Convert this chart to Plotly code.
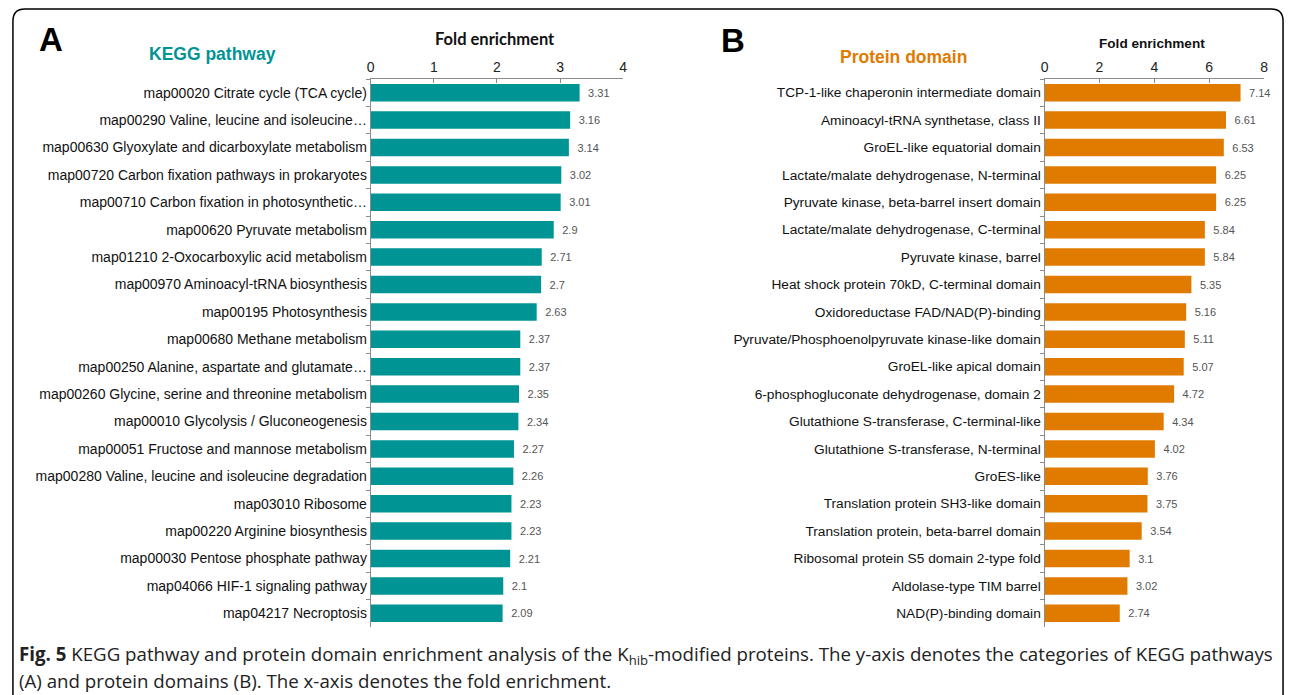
import plotly.graph_objects as go

W, H = 1295, 695

kegg_terms = [
    "map00020 Citrate cycle (TCA cycle)",
    "map00290 Valine, leucine and isoleucine…",
    "map00630 Glyoxylate and dicarboxylate metabolism",
    "map00720 Carbon fixation pathways in prokaryotes",
    "map00710 Carbon fixation in photosynthetic…",
    "map00620 Pyruvate metabolism",
    "map01210 2-Oxocarboxylic acid metabolism",
    "map00970 Aminoacyl-tRNA biosynthesis",
    "map00195 Photosynthesis",
    "map00680 Methane metabolism",
    "map00250 Alanine, aspartate and glutamate…",
    "map00260 Glycine, serine and threonine metabolism",
    "map00010 Glycolysis / Gluconeogenesis",
    "map00051 Fructose and mannose metabolism",
    "map00280 Valine, leucine and isoleucine degradation",
    "map03010 Ribosome",
    "map00220 Arginine biosynthesis",
    "map00030 Pentose phosphate pathway",
    "map04066 HIF-1 signaling pathway",
    "map04217 Necroptosis",
]
kegg_fold = [3.31, 3.16, 3.14, 3.02, 3.01, 2.9, 2.71, 2.7, 2.63, 2.37,
             2.37, 2.35, 2.34, 2.27, 2.26, 2.23, 2.23, 2.21, 2.1, 2.09]

domain_terms = [
    "TCP-1-like chaperonin intermediate domain",
    "Aminoacyl-tRNA synthetase, class II",
    "GroEL-like equatorial domain",
    "Lactate/malate dehydrogenase, N-terminal",
    "Pyruvate kinase, beta-barrel insert domain",
    "Lactate/malate dehydrogenase, C-terminal",
    "Pyruvate kinase, barrel",
    "Heat shock protein 70kD, C-terminal domain",
    "Oxidoreductase FAD/NAD(P)-binding",
    "Pyruvate/Phosphoenolpyruvate kinase-like domain",
    "GroEL-like apical domain",
    "6-phosphogluconate dehydrogenase, domain 2",
    "Glutathione S-transferase, C-terminal-like",
    "Glutathione S-transferase, N-terminal",
    "GroES-like",
    "Translation protein SH3-like domain",
    "Translation protein, beta-barrel domain",
    "Ribosomal protein S5 domain 2-type fold",
    "Aldolase-type TIM barrel",
    "NAD(P)-binding domain",
]
domain_fold = [7.14, 6.61, 6.53, 6.25, 6.25, 5.84, 5.84, 5.35, 5.16, 5.11,
               5.07, 4.72, 4.34, 4.02, 3.76, 3.75, 3.54, 3.1, 3.02, 2.74]

kegg_ticks = [0, 1, 2, 3, 4]
domain_ticks = [0, 2, 4, 6, 8]

TEAL = "#009495"
ORANGE = "#E07B00"
AXIS_C = "#8c8c8c"
ARIAL = "Liberation Sans, Arial, sans-serif"


def px(x):
    return x / W


def py(y):
    return 1 - y / H


fig = go.Figure()
fig.add_trace(go.Bar(
    x=kegg_fold, y=kegg_terms, orientation="h", marker_color=TEAL,
    marker_line_width=0, text=["\u2002" + str(v) for v in kegg_fold],
    textposition="outside", textfont=dict(family=ARIAL, size=11, color="#555"),
    cliponaxis=False, xaxis="x", yaxis="y", showlegend=False))
fig.add_trace(go.Bar(
    x=domain_fold, y=domain_terms, orientation="h", marker_color=ORANGE,
    marker_line_width=0, text=["\u2002" + str(v) for v in domain_fold],
    textposition="outside", textfont=dict(family=ARIAL, size=11, color="#555"),
    cliponaxis=False, xaxis="x2", yaxis="y2", showlegend=False))

ydom = [py(627), py(79)]
common_x = dict(side="top", showline=True, linecolor=AXIS_C, linewidth=1,
                ticks="inside", ticklen=4, tickcolor=AXIS_C, showgrid=False,
                zeroline=False, tickfont=dict(family=ARIAL, size=14, color="#222"))
common_y = dict(type="category", autorange="reversed", showline=True,
                linecolor=AXIS_C, linewidth=1, ticks="outside", ticklen=4,
                tickcolor=AXIS_C, tickson="boundaries", showgrid=False,
                domain=ydom)

fig.update_layout(
    width=W, height=H, margin=dict(l=0, r=0, t=0, b=0),
    paper_bgcolor="white", plot_bgcolor="white", bargap=0.36,
    xaxis=dict(common_x, domain=[px(369), px(623)], range=[0, 4],
               tickvals=kegg_ticks, anchor="y"),
    yaxis=dict(common_y, anchor="x", categoryarray=kegg_terms,
               tickfont=dict(family=ARIAL, size=14, color="#111")),
    xaxis2=dict(common_x, domain=[px(1047), px(1268)], range=[0, 8],
                tickvals=domain_ticks, anchor="y2"),
    yaxis2=dict(common_y, anchor="x2", categoryarray=domain_terms,
                tickfont=dict(family=ARIAL, size=13.7, color="#111")),
)

ann = []
ann.append(dict(text="<b>A</b>", x=px(47), y=py(40), font=dict(family=ARIAL, size=33, color="black")))
ann.append(dict(text="<b>KEGG pathway</b>", x=px(210), y=py(54), font=dict(family=ARIAL, size=17.5, color=TEAL)))
ann.append(dict(text="<b>Fold enrichment</b>", x=px(494), y=py(39), font=dict(family="Lato, Open Sans, sans-serif", size=16.5, color="#111")))
ann.append(dict(text="<b>B</b>", x=px(734), y=py(41), font=dict(family=ARIAL, size=33, color="black")))
ann.append(dict(text="<b>Protein domain</b>", x=px(905), y=py(57), font=dict(family=ARIAL, size=17.5, color=ORANGE)))
ann.append(dict(text="<b>Fold enrichment</b>", x=px(1155), y=py(43), font=dict(family=ARIAL, size=13.6, color="#111")))
CAP = "Open Sans, sans-serif"
ann.append(dict(text="<b>Fig. 5</b> KEGG pathway and protein domain enrichment analysis of the K<sub>hib</sub>-modified proteins. The y-axis denotes the categories of KEGG pathways",
                x=px(13), y=py(655), xanchor="left", font=dict(family=CAP, size=18.7, color="#222")))
ann.append(dict(text="(A) and protein domains (B). The x-axis denotes the fold enrichment.",
                x=px(13), y=py(680), xanchor="left", font=dict(family=CAP, size=18.7, color="#222")))
for a in ann:
    a.setdefault("xanchor", "center")
    a.update(xref="paper", yref="paper", yanchor="middle", showarrow=False)
fig.update_layout(annotations=ann)

# rounded frame, open at bottom
r = 12
x0, x1, y0 = 9, 1287, 9
path = (f"M {px(x0)} {py(H + 5)} L {px(x0)} {py(y0 + r)} "
        f"Q {px(x0)} {py(y0)} {px(x0 + r)} {py(y0)} "
        f"L {px(x1 - r)} {py(y0)} Q {px(x1)} {py(y0)} {px(x1)} {py(y0 + r)} "
        f"L {px(x1)} {py(H + 5)}")
fig.update_layout(shapes=[dict(type="path", xref="paper", yref="paper", path=path,
                               line=dict(color="black", width=1.5))])

fig.write_html("out.html")
